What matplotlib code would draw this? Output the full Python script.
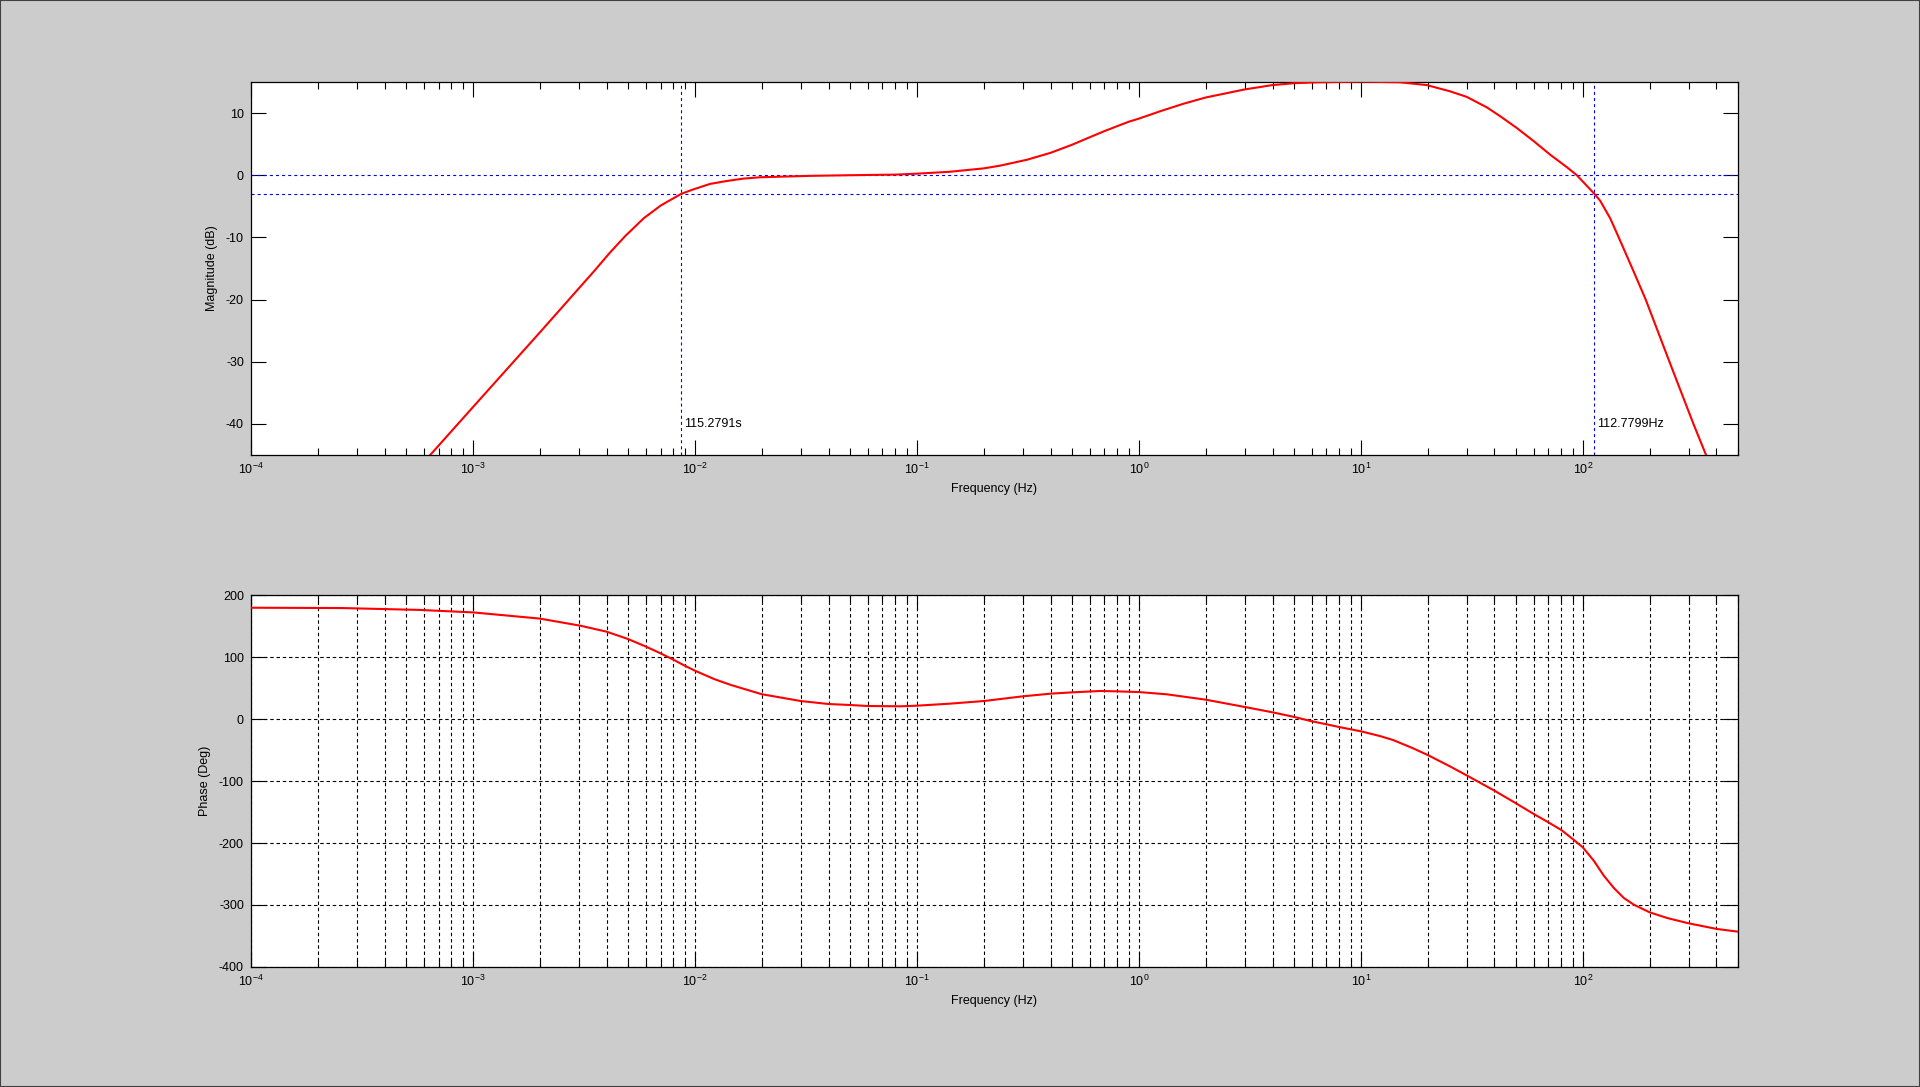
import matplotlib
matplotlib.use("Agg")
import matplotlib.pyplot as plt
from matplotlib.ticker import LogLocator, LogFormatterMathtext, NullFormatter
from matplotlib.patches import Rectangle

plt.rcParams['font.family'] = ['Liberation Sans', 'DejaVu Sans']
plt.rcParams['mathtext.fontset'] = 'custom'
plt.rcParams['mathtext.rm'] = 'Liberation Sans'
plt.rcParams['mathtext.it'] = 'Liberation Sans'
plt.rcParams['axes.unicode_minus'] = False
plt.rcParams['lines.scale_dashes'] = False

# ---- data ----
mag_freq = [1e-4, 1e-3, 2e-3, 3.52e-3, 4.13e-3, 4.85e-3, 5.89e-3, 7.03e-3, 8.675e-3,
            9.8e-3, 0.0117, 0.0139, 0.0165, 0.0196, 0.033, 0.05, 0.08, 0.1, 0.14,
            0.2, 0.238, 0.314, 0.40, 0.5, 0.6, 0.7, 0.8, 0.9, 1.0, 1.25, 1.59, 2.0,
            3, 4, 5, 6.4, 10, 15, 19.8, 25.2, 30, 37, 42.4, 50.4, 60, 71.3, 84.7,
            94, 112.78, 119.7, 132.7, 144.7, 169, 192, 245.6, 315, 359, 500]
mag_db = [-77.3, -37.3, -25.3, -15.4, -12.5, -9.8, -6.9, -4.85, -3.0,
          -2.3, -1.4, -0.93, -0.55, -0.33, -0.1, 0.0, 0.1, 0.25, 0.55,
          1.1, 1.55, 2.5, 3.6, 4.9, 6.1, 7.1, 7.9, 8.6, 9.1, 10.3, 11.5, 12.5,
          13.8, 14.5, 14.8, 14.95, 15.05, 14.95, 14.5, 13.5, 12.6, 10.9, 9.5, 7.6, 5.5, 3.3, 1.3,
          0.0, -3.0, -4.1, -6.9, -9.9, -15.4, -20.0, -30.0, -40.0, -45.0, -58.4]

ph_freq = [1e-4, 2.57e-4, 5.7e-4, 1e-3, 2e-3, 3.05e-3, 4e-3, 5e-3, 6e-3, 7e-3, 8e-3,
           9e-3, 0.01, 0.0122, 0.0145, 0.02, 0.03, 0.04, 0.05, 0.06, 0.0848, 0.1,
           0.14, 0.2, 0.3, 0.4, 0.5, 0.67, 0.8, 1.0, 1.34, 2.0, 3.0, 4.0, 5.0, 6.0,
           7.0, 8.0, 10, 12.2, 14, 17, 20, 25.4, 30, 40, 50, 60, 70, 80, 90, 100,
           112, 124.3, 138, 153, 169.7, 200, 240, 300, 402, 500]
ph_deg = [179.5, 179, 176, 172, 162, 150.5, 140.9, 129, 117, 106, 95.7,
          86, 78, 64.5, 55, 40, 29, 24.2, 22.6, 21, 20.5, 21.5,
          24.7, 29, 36.6, 40.9, 43, 45.2, 44.6, 43.5, 39.8, 31.2, 19.4, 10.8, 3.4, -3.6,
          -8.5, -13, -19.8, -27.5, -34, -46.5, -58, -77, -91, -115.6, -136, -153, -166.7, -179, -193.5, -207,
          -228.5, -252.7, -272.6, -288.7, -299.5, -311.8, -321, -329.6, -338.7, -343]

f_low = 1 / 115.2791
f_high = 112.7799
ref_levels = [0, -3]
low_label = '115.2791s'
high_label = '112.7799Hz'

mag_yticks = [-40, -30, -20, -10, 0, 10]
ph_yticks = [-400, -300, -200, -100, 0, 100, 200]

# ---- figure ----
fig = plt.figure(figsize=(19.2, 10.87), dpi=100, facecolor='#cccccc')
ax1 = fig.add_axes([0.1307, 0.5814, 0.7745, 0.3432])
ax2 = fig.add_axes([0.1307, 0.1104, 0.7745, 0.3422])

FS = 9

def style(ax):
    ax.set_xscale('log')
    ax.set_xlim(1e-4, 500)
    ax.xaxis.set_major_locator(LogLocator(base=10, numticks=20))
    ax.xaxis.set_major_formatter(LogFormatterMathtext())
    ax.xaxis.set_minor_locator(LogLocator(base=10, subs=[2, 3, 4, 5, 6, 7, 8, 9], numticks=50))
    ax.xaxis.set_minor_formatter(NullFormatter())
    ax.tick_params(which='both', direction='in', top=True, right=True, labelsize=FS,
                   color='black', width=0.8)
    ax.tick_params(which='major', length=10.5, pad=5)
    ax.tick_params(which='minor', length=5.2)
    for s in ax.spines.values():
        s.set_linewidth(0.9)
        s.set_color('black')
    ax.set_xlabel('Frequency (Hz)', fontsize=FS, labelpad=4)

# magnitude
style(ax1)
ax1.plot(mag_freq, mag_db, color='red', lw=1.5, zorder=3)
for lv in ref_levels:
    ax1.axhline(lv, color='blue', lw=0.8, dashes=(2.2, 2.2), zorder=2)
ax1.axvline(f_low, color='blue', lw=0.8, dashes=(2.2, 2.2), zorder=2)
ax1.axvline(f_high, color='blue', lw=0.8, dashes=(2.2, 2.2), zorder=2)
ax1.text(f_low * 1.03, -40, low_label, fontsize=FS, va='center', ha='left')
ax1.text(f_high * 1.03, -40, high_label, fontsize=FS, va='center', ha='left')
ax1.set_ylim(-45, 15)
ax1.set_yticks(mag_yticks)
ax1.set_ylabel('Magnitude (dB)', fontsize=FS, labelpad=6)

# phase
style(ax2)
ax2.set_ylim(-400, 200)
ax2.set_yticks(ph_yticks)
ax2.grid(True, which='both', axis='x', color='black', lw=0.8, dashes=(2.5, 2.0))
ax2.grid(True, which='major', axis='y', color='black', lw=0.8, dashes=(2.5, 2.0))
ax2.set_axisbelow(True)
ax2.plot(ph_freq, ph_deg, color='red', lw=1.5, zorder=3)
ax2.set_ylabel('Phase (Deg)', fontsize=FS, labelpad=6)

fig.patches.append(Rectangle((0, 0), 1, 1, transform=fig.transFigure, fill=False,
                             edgecolor='#404040', lw=1.5))

fig.savefig('out.png', dpi=100, facecolor=fig.get_facecolor())
